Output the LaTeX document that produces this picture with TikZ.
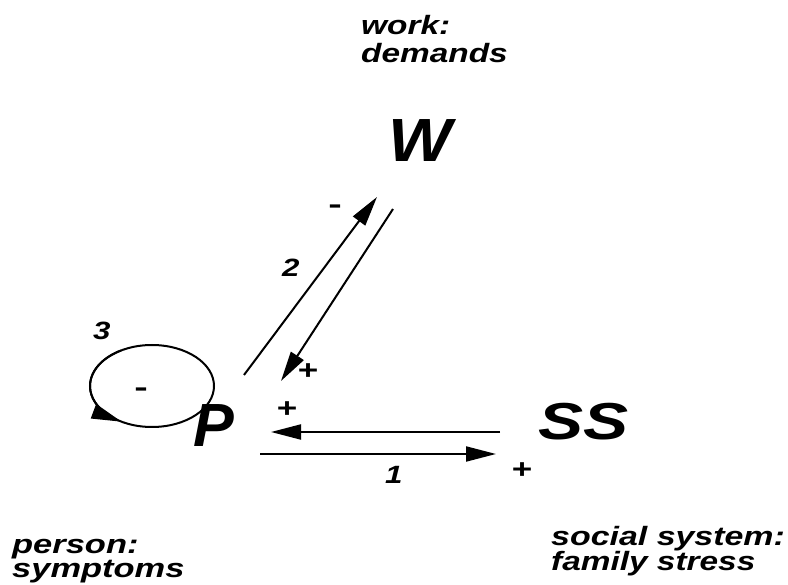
\documentclass[tikz,border=0pt]{standalone}
\usepackage{fontspec}
\usepackage{graphicx}
\setmainfont{Liberation Sans}
\usetikzlibrary{arrows.meta}
\newcommand\strtxt[2]{\scalebox{#1}[1]{#2}}
\begin{document}
\begin{tikzpicture}[x=1pt,y=-1pt,
  big/.style={font=\fontsize{61}{61}\selectfont\bfseries\itshape, inner sep=0pt, anchor=base west},
  lbl/.style={font=\fontsize{26.5}{26.5}\selectfont\bfseries\itshape, inner sep=0pt, anchor=base west},
  sml/.style={font=\fontsize{25}{25}\selectfont\bfseries\itshape, inner sep=0pt},
  sgn/.style={font=\fontsize{27}{27}\selectfont\bfseries, inner sep=0pt},
  arr/.style={line width=2pt, -{Triangle[length=30pt,width=15pt]}},
  ln/.style={line width=2pt}]
\useasboundingbox (0,0) rectangle (788,585);
% main variables
\node[big] (W) at (388,162) {\strtxt{1.1}{W}};
\node[big, font=\fontsize{52}{52}\selectfont\bfseries\itshape] (SS) at (538,440) {\strtxt{1.3}{SS}};
% labels
\node[lbl] (work) at (361,35) {\strtxt{1.26}{work:}};
\node[lbl] (dem) at (361,63) {\strtxt{1.26}{demands}};
\node[lbl] (pers) at (12,553) {\strtxt{1.3}{person:}};
\node[lbl] (symp) at (12,577) {\strtxt{1.3}{symptoms}};
\node[lbl] (soc) at (551,545) {\strtxt{1.28}{social system:}};
\node[lbl] (fam) at (551,570) {\strtxt{1.26}{family stress}};
% arrow end points
\coordinate (a2s) at (244,375);
\coordinate (a2e) at (377,197);
\coordinate (b2s) at (393,209);
\coordinate (b2e) at (281,381);
\coordinate (a1s) at (500,432);
\coordinate (a1e) at (271,432);
\coordinate (b1s) at (260,454);
\coordinate (b1e) at (496,454);
\coordinate (lc) at (152,386);
% connectors
\draw[arr] (a2s) -- (a2e);
\draw[arr] (b2s) -- (b2e);
\draw[arr] (a1s) -- (a1e);
\draw[arr] (b1s) -- (b1e);
% loop
\draw[ln] (lc) ellipse[x radius=62, y radius=41];
\draw[arr] (lc) ++(240:62 and 41) arc[start angle=240, end angle=119.4, x radius=62, y radius=41];
\node[big] (P) at (193,447) {P};
% numbers and signs
\node[sml, anchor=base west] (n3) at (93,340) {\strtxt{1.25}{3}};
\node[sml, anchor=base west] (n2) at (282,277) {\strtxt{1.25}{2}};
\node[sml, anchor=base west] (n1) at (385,483) {\strtxt{1.25}{1}};
\node[sgn] (p1) at (308,372) {\strtxt{1.3}{+}};
\node[sgn] (p2) at (287,410) {\strtxt{1.3}{+}};
\node[sgn] (p3) at (522,471) {\strtxt{1.3}{+}};
\node[sgn, anchor=base] (m1) at (335,214) {\strtxt{1.5}{-}};
\node[sgn, anchor=base] (m2) at (141,397) {\strtxt{1.5}{-}};
\end{tikzpicture}
\end{document}
